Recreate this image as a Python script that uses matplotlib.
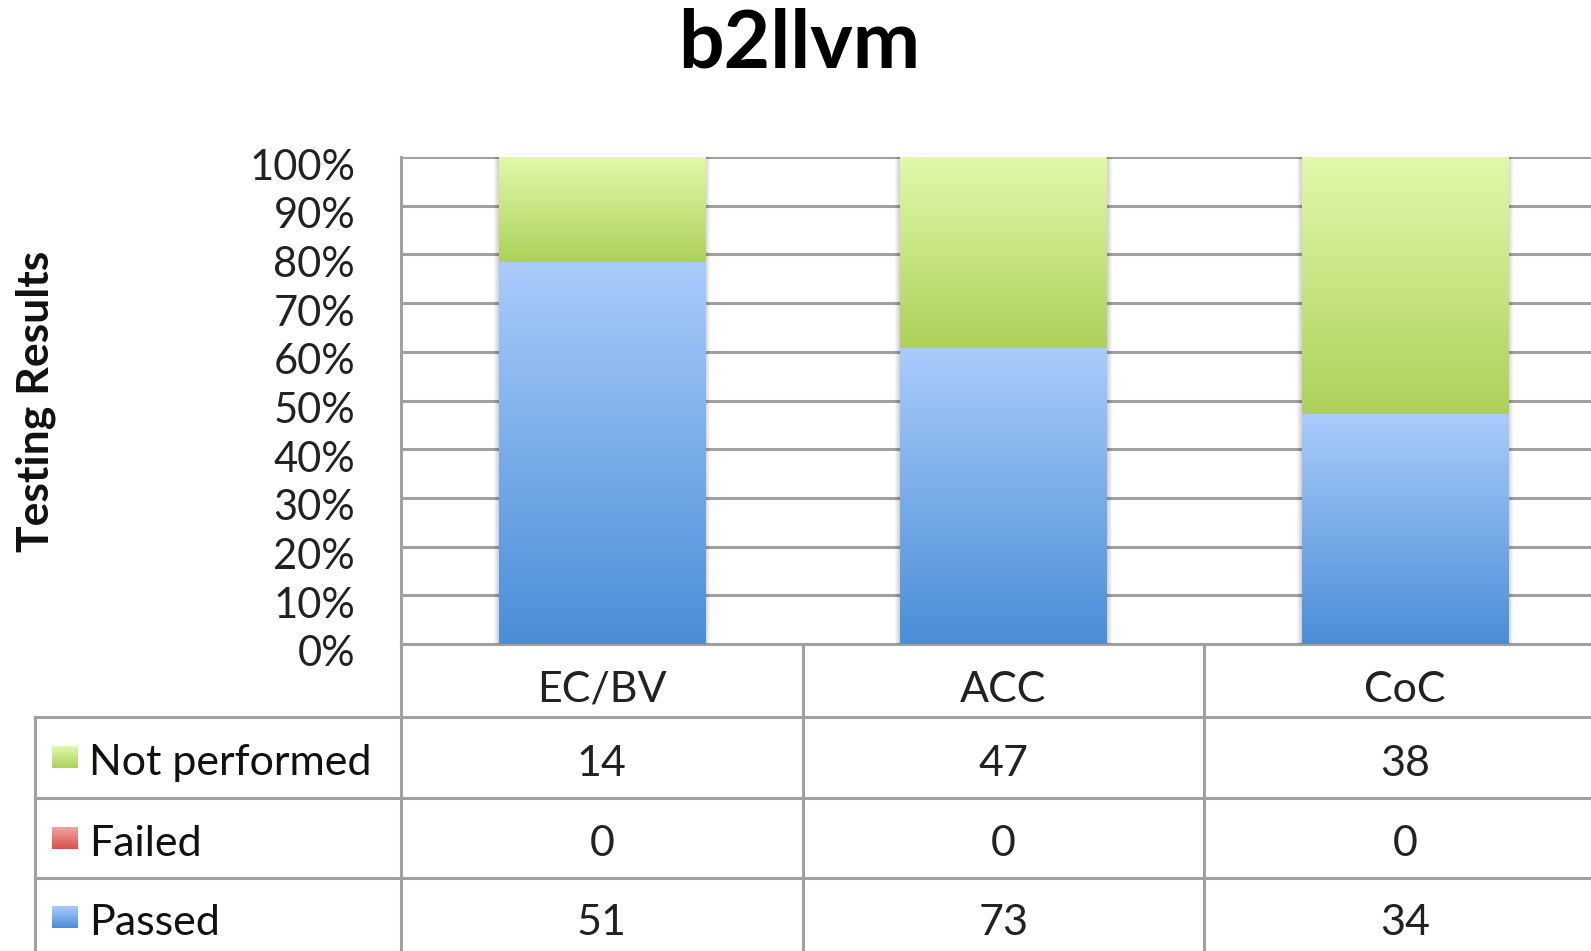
import numpy as np
import matplotlib
matplotlib.use("Agg")
import matplotlib.pyplot as plt
import matplotlib.transforms as mtransforms
from matplotlib.patches import Rectangle

plt.rcParams['font.family'] = ['Lato', 'DejaVu Sans']

categories = ["EC/BV", "ACC", "CoC"]
series = ["Not performed", "Failed", "Passed"]
not_performed = [14, 47, 38]
failed = [0, 0, 0]
passed = [51, 73, 34]

# gradient colours (top, bottom) for each series
grad = {
    "Passed": ("#a9ccfb", "#4a8ed7"),
    "Failed": ("#f4a3a0", "#d9514c"),
    "Not performed": ("#e1f9aa", "#add15b"),
}
grid_col = "#a0a0a0"

W, H = 1591, 951
fig = plt.figure(figsize=(W / 100, H / 100), dpi=100)

# overlay in pixel coordinates for the table grid
over = fig.add_axes([0, 0, 1, 1], zorder=0)
over.set_xlim(0, W)
over.set_ylim(H, 0)
over.axis("off")

ax = fig.add_axes([401 / W, 1 - 644 / H, (1606 - 401) / W, (644 - 157) / H], zorder=1)
ax.patch.set_alpha(0)

totals = np.array(passed) + np.array(failed) + np.array(not_performed)
p_pass = np.array(passed) / totals
p_fail = np.array(failed) / totals
p_np = np.array(not_performed) / totals

x = np.arange(len(categories)) + 0.5
width = 0.513


def shadow(ax, bar):
    x0, y0 = bar.get_x(), bar.get_y()
    w, h = bar.get_width(), bar.get_height()
    for k in range(1, 6):
        d = 0.0025 * k
        ax.add_patch(Rectangle((x0 - d, y0), w + 2 * d, h + d * 0.6,
                               facecolor="#000000", alpha=0.035,
                               edgecolor="none", zorder=2))


def gradient_fill(ax, bars, top, bottom):
    cmap = matplotlib.colors.LinearSegmentedColormap.from_list("g", [bottom, top])
    g = np.linspace(0, 1, 256).reshape(-1, 1)
    for bar in bars:
        if bar.get_height() <= 0:
            continue
        x0, y0 = bar.get_x(), bar.get_y()
        w, h = bar.get_width(), bar.get_height()
        im = ax.imshow(g, cmap=cmap, origin="lower", aspect="auto",
                       extent=(x0, x0 + w, y0, y0 + h), zorder=3)
        im.set_clip_path(bar)


b_pass = ax.bar(x, p_pass, width, facecolor="none", edgecolor="none", zorder=3)
b_fail = ax.bar(x, p_fail, width, bottom=p_pass, facecolor="none", edgecolor="none", zorder=3)
b_np = ax.bar(x, p_np, width, bottom=p_pass + p_fail, facecolor="none", edgecolor="none", zorder=3)

for b1, b3 in zip(b_pass, b_np):
    full = Rectangle((b1.get_x(), 0), b1.get_width(), b3.get_y() + b3.get_height())
    shadow(ax, full)

gradient_fill(ax, b_pass, *grad["Passed"])
gradient_fill(ax, b_fail, *grad["Failed"])
gradient_fill(ax, b_np, *grad["Not performed"])

ax.set_xlim(0, 3)
ax.set_ylim(0, 1)
ax.set_yticks(np.linspace(0, 1, 11))
ax.set_yticklabels([f"{int(round(v * 100))}%" for v in np.linspace(0, 1, 11)],
                   fontsize=30, color="#222222")
ax.set_xticks([])
ax.tick_params(axis="y", length=0, pad=33)
off = mtransforms.ScaledTranslation(0, -0.07, fig.dpi_scale_trans)
for lab in ax.get_yticklabels():
    lab.set_transform(lab.get_transform() + off)
ax.grid(axis="y", color=grid_col, lw=2.2, zorder=1)
for s in ["top", "right", "bottom"]:
    ax.spines[s].set_visible(False)
ax.spines["left"].set_color(grid_col)
ax.spines["left"].set_linewidth(2.2)
ax.spines["left"].set_zorder(1)

# title and axis label
fig.text(799 / W, 1 - 44 / H, "b2llvm", ha="center", va="center",
         fontsize=58, fontweight="bold")
fig.text(36 / W, 1 - 401 / H, "Testing Results", ha="center", va="center",
         rotation=90, fontsize=32, fontweight="bold", color="#111111")

# data table below the plot
tx = mtransforms.blended_transform_factory(ax.transData, over.transData)
row_lines = [644, 717, 798, 878, 958]
lw = 2.2
over.plot([401, W], [644, 644], color=grid_col, lw=lw)
for yl in row_lines[1:]:
    over.plot([35, W], [yl, yl], color=grid_col, lw=lw, clip_on=True)
over.plot([35, 35], [717, H], color=grid_col, lw=lw)
for i in range(len(categories) + 1):
    over.plot([i, i], [644, H], color=grid_col, lw=lw, transform=tx)

fs = 31
for i, c in enumerate(categories):
    over.text(i + 0.5, 690, c, transform=tx, ha="center", va="center",
              fontsize=fs, color="#222222")

rows = [("Not performed", not_performed), ("Failed", failed), ("Passed", passed)]
row_mid = [(717 + 798) / 2 + 6, (798 + 878) / 2 + 6, (878 + 958) / 2 + 5]
for (name, vals), ym in zip(rows, row_mid):
    top, bottom = grad[name]
    cmap = matplotlib.colors.LinearSegmentedColormap.from_list("s", [bottom, top])
    over.imshow(np.linspace(0, 1, 64).reshape(-1, 1), cmap=cmap, origin="upper",
                aspect="auto", extent=(52, 78, ym - 17, ym + 5), zorder=2)
    over.text(89, ym, name, ha="left", va="center", fontsize=fs, color="#111111")
    for i, v in enumerate(vals):
        over.text(i + 0.5, ym, str(v), transform=tx, ha="center", va="center",
                  fontsize=fs, color="#222222")
over.set_xlim(0, W)
over.set_ylim(H, 0)

fig.savefig("out.png", dpi=100)
